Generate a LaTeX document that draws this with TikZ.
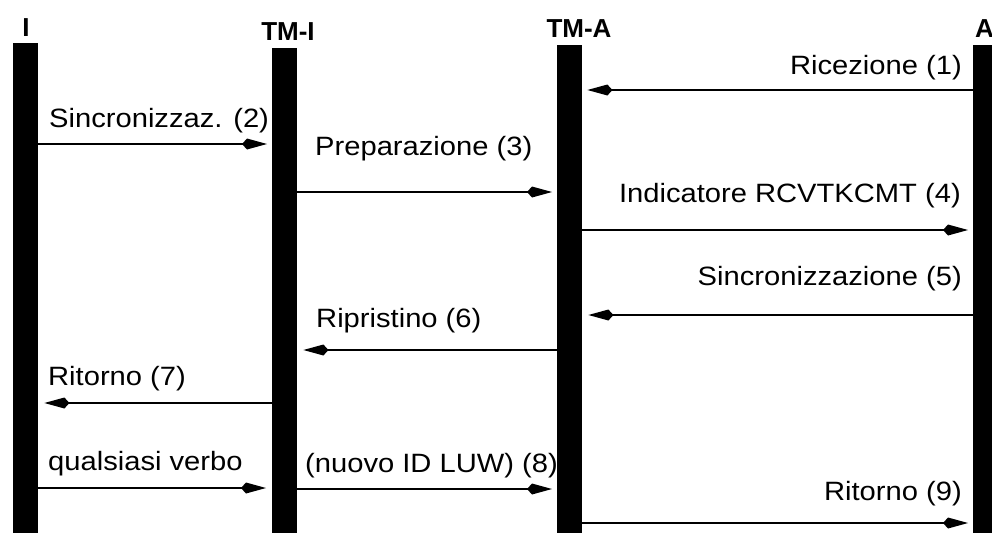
\documentclass[tikz,border=0pt]{standalone}
\usepackage{fontspec}
\setmainfont{Liberation Sans}
\newfontfamily\msgfont{Liberation Sans}[FakeStretch=1.1]
\usetikzlibrary{arrows.meta}

\begin{document}
\begin{tikzpicture}[x=1pt,y=-1pt,
  lifeline/.style={fill=black,inner sep=0pt,minimum width=25pt,anchor=north west},
  heading/.style={inner sep=0pt,font=\fontsize{26}{30}\selectfont\bfseries},
  msglabel/.style={inner sep=0pt,font=\fontsize{26.5}{30}\msgfont},
  msg/.style={line width=2.2pt,-{Kite[length=25pt,width=11pt,inset=5pt]}}]
  \useasboundingbox (0,0) rectangle (992,533);

  % lifelines
  \node[lifeline,minimum height=490pt] (I)   at (13,43)  {};
  \node[lifeline,minimum height=485pt] (TMI) at (272,48) {};
  \node[lifeline,minimum height=488pt] (TMA) at (557,45) {};
  \node[lifeline,minimum height=488pt,minimum width=19pt] (A) at (973,45) {};

  % headings
  \node[heading,anchor=base] (hI)   at (26,36)  {I};
  \node[heading,anchor=base] (hTMI) at (288,40) {TM-I};
  \node[heading,anchor=base] (hTMA) at (579,37) {TM-A};
  \node[heading,anchor=base west] (hA) at (975,37) {A};

  % message labels
  \node[msglabel,anchor=base east] (l1) at (962,74)  {Ricezione (1)};
  \node[msglabel,anchor=base west] (l2) at (49,127)  {Sincronizzaz. (2)};
  \node[msglabel,anchor=base west] (l3) at (315,155) {Preparazione (3)};
  \node[msglabel,anchor=base east] (l4) at (961,202) {Indicatore RCVTKCMT (4)};
  \node[msglabel,anchor=base east] (l5) at (962,285) {Sincronizzazione (5)};
  \node[msglabel,anchor=base west] (l6) at (316,327) {Ripristino (6)};
  \node[msglabel,anchor=base west] (l7) at (48,385)  {Ritorno (7)};
  \node[msglabel,anchor=base west] (l8a) at (48,470) {qualsiasi verbo};
  \node[msglabel,anchor=base west] (l8b) at (305,472) {(nuovo ID LUW) (8)};
  \node[msglabel,anchor=base east] (l9) at (962,500) {Ritorno (9)};

  % messages
  \draw[msg] (A.west |- 0,90)   -- ([xshift=5pt]TMA.east |- 0,90);
  \draw[msg] (I.east |- 0,144)  -- ([xshift=-5pt]TMI.west |- 0,144);
  \draw[msg] (TMI.east |- 0,192) -- ([xshift=-5pt]TMA.west |- 0,192);
  \draw[msg] (TMA.east |- 0,230) -- ([xshift=-5pt]A.west |- 0,230);
  \draw[msg] (A.west |- 0,315)  -- ([xshift=6pt]TMA.east |- 0,315);
  \draw[msg] (TMA.west |- 0,350) -- ([xshift=6pt]TMI.east |- 0,350);
  \draw[msg] (TMI.west |- 0,403) -- ([xshift=6pt]I.east |- 0,403);
  \draw[msg] (I.east |- 0,488)  -- ([xshift=-6pt]TMI.west |- 0,488);
  \draw[msg] (TMI.east |- 0,489) -- ([xshift=-5pt]TMA.west |- 0,489);
  \draw[msg] (TMA.east |- 0,523) -- ([xshift=-5pt]A.west |- 0,523);
\end{tikzpicture}
\end{document}
